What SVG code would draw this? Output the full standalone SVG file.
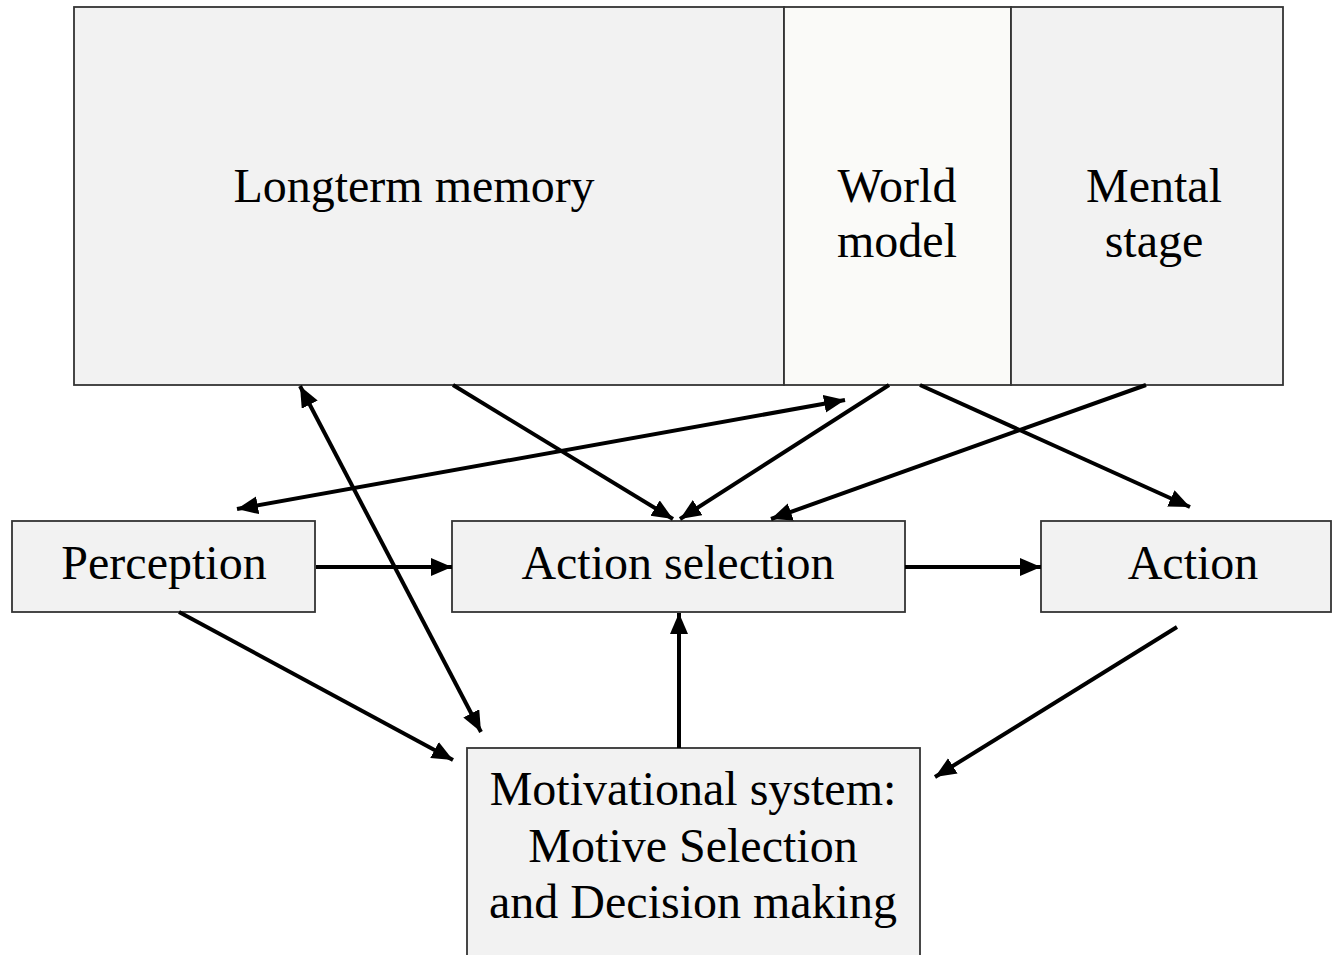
<svg xmlns="http://www.w3.org/2000/svg" width="1332" height="955" viewBox="0 0 1332 955">
  <style>
    .box { fill: #f2f2f2; stroke: #333333; stroke-width: 1.8; }
    .box-light { fill: #fafaf8; stroke: #333333; stroke-width: 1.8; }
    .label { font-family: "Liberation Serif", "Times New Roman", serif; font-size: 48px; fill: #000000; text-anchor: middle; }
    .edge { stroke: #000000; stroke-width: 4; fill: none; marker-end: url(#arrow); }
    .edge2 { stroke: #000000; stroke-width: 4; fill: none; marker-end: url(#arrow); marker-start: url(#arrow); }
  </style>
  <defs>
    <marker id="arrow" markerUnits="userSpaceOnUse" markerWidth="24" markerHeight="20" refX="21" refY="9" orient="auto-start-reverse">
      <path d="M0,0 L21,9 L0,18 Z" fill="#000000"/>
    </marker>
  </defs>
  <rect x="0" y="0" width="1332" height="955" fill="#ffffff"/>

  <g id="node-longterm-memory">
    <rect class="box" x="74" y="7" width="710" height="378"/>
    <text class="label" x="414" y="202">Longterm memory</text>
  </g>
  <g id="node-world-model">
    <rect class="box-light" x="784" y="7" width="227" height="378"/>
    <text class="label" x="897" y="202">World</text>
    <text class="label" x="897" y="257">model</text>
  </g>
  <g id="node-mental-stage">
    <rect class="box" x="1011" y="7" width="272" height="378"/>
    <text class="label" x="1154" y="202">Mental</text>
    <text class="label" x="1154" y="257">stage</text>
  </g>

  <g id="node-perception">
    <rect class="box" x="12" y="521" width="303" height="91"/>
    <text class="label" x="164" y="579">Perception</text>
  </g>
  <g id="node-action-selection">
    <rect class="box" x="452" y="521" width="453" height="91"/>
    <text class="label" x="678" y="579">Action selection</text>
  </g>
  <g id="node-action">
    <rect class="box" x="1041" y="521" width="290" height="91"/>
    <text class="label" x="1193" y="579">Action</text>
  </g>
  <g id="node-motivational-system">
    <rect class="box" x="467" y="748" width="453" height="215"/>
    <text class="label" x="693" y="805">Motivational system:</text>
    <text class="label" x="693" y="862">Motive Selection</text>
    <text class="label" x="693" y="918">and Decision making</text>
  </g>

  <g id="connectors">
    <line class="edge" x1="453" y1="385" x2="673" y2="519"/>
    <line class="edge2" x1="237" y1="509" x2="845" y2="400"/>
    <line class="edge" x1="889" y1="385" x2="680" y2="519"/>
    <line class="edge" x1="1146" y1="385" x2="771" y2="519"/>
    <line class="edge" x1="920" y1="385" x2="1190" y2="507"/>
    <line class="edge2" x1="300" y1="386" x2="481" y2="732"/>
    <line class="edge" x1="316" y1="567" x2="452" y2="567"/>
    <line class="edge" x1="905" y1="567" x2="1041" y2="567"/>
    <line class="edge" x1="179" y1="612" x2="453" y2="760"/>
    <line class="edge" x1="679" y1="748" x2="679" y2="613"/>
    <line class="edge" x1="1177" y1="627" x2="935" y2="777"/>
  </g>
</svg>
